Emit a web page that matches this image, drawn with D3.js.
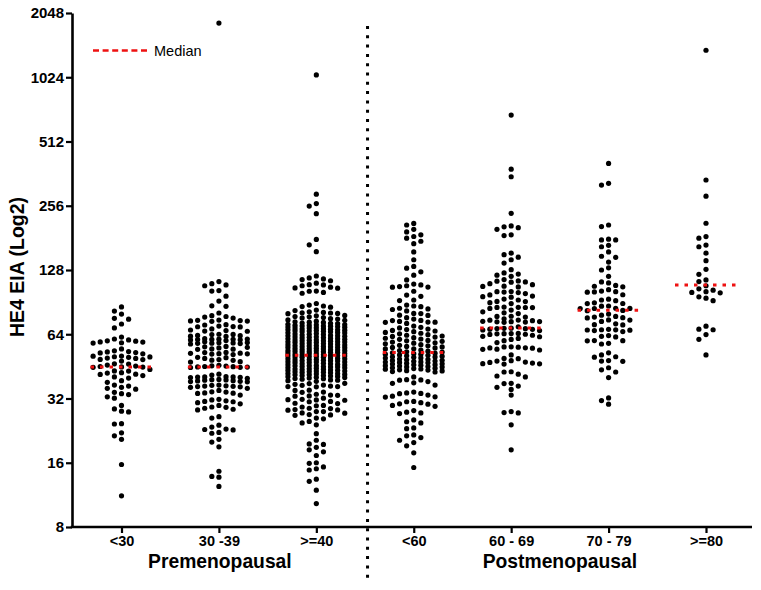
<!DOCTYPE html>
<html><head><meta charset="utf-8">
<script src="https://cdn.jsdelivr.net/npm/d3@7"></script>
<style>body{margin:0;background:#fff}</style>
</head><body>
<svg id="chart" width="761" height="590"></svg>
<script>
const categories = ["<30", "30 -39", ">=40", "<60", "60 - 69", "70 - 79", ">=80"];
const groupLabels = ["Premenopausal", "Postmenopausal"];
const yTicks = [8, 16, 32, 64, 128, 256, 512, 1024, 2048];
const medians = [45, 45, 51, 52.5, 68.5, 83, 109];

const lt30 = [85.9, 82.2, 79.6, 76.0, 75.3, 71.5, 68.5,
 62.1, 60.8, 60.2, 59.6, 58.9, 58.2, 58.4, 58.8, 59.4,
 54.6, 53.5, 53.1, 52.9, 52.5, 52.3, 51.8,
 50.6, 50.2, 50.1, 49.9, 49.5, 49.3, 48.8, 48.7, 47.9, 50.5,
 46.5, 46.4, 45.9, 45.4, 45.2, 45.0, 44.9, 44.8,
 43.8, 43.1, 43.0, 42.3, 42.1, 41.6, 41.5, 41.0, 40.4, 39.9,
 38.8, 38.1, 37.0, 36.6, 36.1, 35.7, 35.4,
 34.2, 33.7, 33.4, 32.6, 32.1,
 29.7, 28.6, 27.9, 27.7, 24.4, 24.3, 22.1, 21.4, 20.6, 15.7, 11.2];

const age30_39 = [1838, 113, 110.5, 109, 108, 102.5, 102, 96.5, 91.5, 87, 86.5, 80.5,
 77.5, 74.6, 73.8, 78.2, 73.9, 74.2, 73.6, 74.4, 76.2, 77.0,
 70.7, 69.4, 71.0, 69.5, 69.9, 69.3,
 67.8, 67.0, 66.2, 66.6, 66.1,
 63.2, 63.8, 64.0, 62.7, 62.5, 63.9, 63.0,
 60.7, 60.6, 60.5, 60.4, 60.2, 61.0, 59.8, 60.8, 60.3, 58.4, 57.6, 58.0, 57.9, 59.0, 58.1, 58.5, 58.3,
 55.6, 55.2, 54.6, 54.4, 54.5, 55.9, 56.1,
 51.8, 52.2, 51.4, 52.6, 52.1, 51.7, 51.9, 52.5,
 49.9, 49.3, 49.7, 48.7, 47.4, 48.4, 48.3, 47.6,
 45.4, 44.8, 45.1, 45.5, 45.8, 45.0, 44.7, 45.2, 44.9,
 41.6, 40.4, 39.8, 40.2, 40.5, 40.3, 40.1, 40.4, 41.2,
 39.1, 38.4, 38.8, 38.3, 39.0, 39.2, 38.7, 38.5, 39.3,
 37.0, 36.4, 36.6, 36.3, 36.1, 36.5, 36.9, 36.7, 35.7,
 34.3, 33.9, 34.0, 33.2, 33.8, 34.4, 34.9,
 31.5, 31.0, 30.6, 30.2, 30.9, 31.2, 31.7,
 29.2, 29.1, 28.3, 28.5, 28.8, 29.7,
 26.3, 25.9,
 24.0, 23.5, 22.9, 23.0, 22.8, 22.2, 22.0,
 20.6, 20.0, 19.0, 14.6, 13.8, 13.7, 12.4];

const ge40 = [1050, 290, 262, 255, 235, 178, 168, 156, 120, 117.5, 116.3, 115.5, 114, 111, 109.3, 109, 108,
 106.3, 105.5, 105.2, 102, 101.8, 100.5, 99.6, 89.2, 87.7, 86.8, 86.3, 85.7, 83.1, 82.6, 81.5, 81.0,
 80.7, 80.5, 80.1, 79.9,
 78.4, 78.1, 77.5, 77.2, 76.6, 76.3, 75.7, 75.4, 74.7, 74.4, 73.7, 73.2,
 72.9, 72.7, 72.2, 72.0, 71.8, 71.3, 71.1, 70.9, 70.5, 70.4, 70.0, 69.9, 69.8, 69.5,
 69.2, 69.1, 68.7, 68.5, 68.4, 68.0, 67.7, 67.6, 67.2, 67.1, 66.9, 66.6, 66.5, 66.2, 66.1,
 65.8, 65.7, 65.3, 65.0, 64.9, 64.5, 64.2, 64.0, 63.9, 63.5, 63.2, 63.0, 62.9, 62.6, 62.3, 62.2,
 61.9, 61.8, 61.5, 61.2, 61.0, 60.9, 60.6, 60.3, 60.2, 60.0, 59.7, 59.6, 59.4, 59.1, 59.0, 58.8,
 58.6, 58.5, 58.2, 57.9, 57.8, 57.6, 57.3, 57.2, 57.0, 56.7, 56.6, 56.4, 56.1, 56.0, 55.9, 55.6,
 55.5, 55.4, 55.1, 54.8, 54.7, 54.6, 54.3, 54.2, 54.0, 53.7, 53.6, 53.5, 53.2, 53.2, 53.0, 52.8,
 52.7, 52.6, 52.3, 52.0, 51.9, 51.8, 51.5, 51.4, 51.2, 51.0, 50.9, 50.8, 50.6, 50.4, 50.3, 50.1,
 50.0, 49.9, 49.6, 49.3, 49.2, 49.1, 48.8, 48.7, 48.5, 48.3, 48.2, 48.1, 47.9, 47.6, 47.5, 47.4,
 47.2, 47.1, 46.8, 46.6, 46.5, 46.2, 46.1, 45.9, 45.7, 45.6, 45.5, 45.2, 45.2, 45.0, 44.9,
 44.7, 44.6, 44.4, 44.1, 44.0, 43.9, 43.7, 43.5, 43.4, 43.3, 43.0, 43.0, 42.8, 42.7,
 42.5, 42.4, 42.2, 41.9, 41.9, 41.7, 41.5, 41.4, 41.3, 41.0, 41.0, 40.8, 40.6,
 40.5, 40.2, 40.1, 39.9, 39.7, 39.6, 39.4, 39.1, 39.0, 38.8, 38.5,
 37.7, 36.4, 37.0, 36.6, 36.4, 37.6, 36.3, 36.9, 37.3, 35.0, 34.3, 33.2, 32.8, 33.1, 32.9, 33.5, 34.2, 34.9,
 32.1, 31.5, 31.0, 31.4, 30.4, 31.6, 30.9, 31.7, 30.3, 29.7, 29.2, 28.3, 27.8, 28.2, 28.8, 28.4, 28.7, 29.6,
 27.4, 26.8, 26.9, 26.7, 27.3, 27.8, 25.9, 25.7, 25.0, 24.6, 24.1, 21.9, 20.4, 19.6, 19.5, 18.9, 18.4,
 18.0, 17.3, 16.0, 15.9, 15.3, 15.0, 14.8, 13.4, 13.1, 11.9, 10.3];

const lt60 = [211.5, 208, 198.5, 193, 187, 183.7, 180.5, 174.5, 170, 155.5, 143, 133, 130.5, 125.5, 121,
 115, 110, 109, 108, 107, 106.5, 106.4, 101.8, 97.7, 96.4, 92.6, 92.0, 87.7, 86.8, 86.2, 84.7, 84.1,
 83.6, 82.3, 80.1, 80.0, 78.6, 78.4, 76.5, 75.4, 74.3, 74.2, 73.5, 73.0, 72.9, 72.8, 71.9,
 69.9, 69.0, 68.5, 67.7, 67.3, 66.7, 66.3,
 65.8, 65.3, 64.7, 64.3, 63.7, 63.3, 62.8,
 62.5, 62.1, 61.7, 61.3, 60.8, 60.6, 59.9, 59.6,
 59.3, 58.8, 58.4, 58.1, 57.7, 57.2, 56.8, 56.5,
 56.1, 55.8, 55.5, 55.2, 54.7, 54.6, 54.0, 53.7,
 53.3, 53.0, 52.8, 52.4,
 52.2, 51.9, 51.6, 51.6, 51.2, 51.0, 50.7, 50.5, 50.2, 50.1,
 49.9, 49.6, 49.5, 49.0, 48.8, 48.6, 48.3, 48.2, 47.9, 47.8, 47.5, 47.4,
 47.2, 47.0, 46.8, 46.5, 46.4, 46.1, 46.0, 45.8, 45.6, 45.4, 45.2, 45.0, 44.9,
 44.6, 44.4, 44.2, 44.0, 43.9, 43.6, 43.5, 43.2, 43.1, 42.8,
 42.6, 40.4, 39.2, 39.1, 39.0, 38.4, 37.9, 37.7, 37.0, 34.3, 34.0, 33.8, 33.7, 33.2, 32.8, 32.6, 32.5,
 31.0, 30.9, 30.6, 30.2, 30.1, 29.7, 29.4, 28.1, 27.6, 27.4, 27.2, 25.4, 24.9, 24.6, 23.3, 23.1,
 21.6, 21.4, 21.0, 20.4, 19.9, 19.2, 17.8, 15.2];

const age60_69 = [681, 380, 350, 236, 206, 204, 202, 198.5, 187, 185.5, 153.5, 151, 147, 143, 138, 128.5,
 124, 122.5, 121, 119.5, 115.4, 113.8, 113.5, 112.5, 112.3, 110.5, 109.2, 107.5, 107.2, 106.6,
 101.5, 101.3, 100.9, 100.3, 99.3, 97.8, 96.6, 96.0, 95.5, 93.5, 92.6, 91.2, 91.0, 90.0, 89.1,
 85.8, 85.6, 85.5, 85.4, 85.3, 84.6, 83.1, 81.5, 80.6, 80.0, 77.7, 77.6, 77.0, 75.6, 74.6, 74.5,
 74.1, 73.6, 73.4, 73.3, 73.2, 73.0, 72.8, 69.4, 68.3, 68.2, 68.1, 68.0, 67.6, 67.5, 67.0, 66.6,
 64.6, 64.5, 64.4, 64.3, 64.0, 63.9, 63.3, 62.6, 62.3, 61.2, 60.5, 59.7, 58.5,
 55.9, 55.8, 55.7, 55.3, 55.2, 55.1, 54.5, 54.4, 54.0, 51.2, 49.3, 49.2, 48.1, 47.9, 47.4, 47.2,
 46.9, 46.6, 46.5, 46.4, 42.7, 42.6, 41.6, 40.8, 40.4, 37.7, 37.6, 36.6, 36.1, 35.3, 33.2,
 27.8, 27.5, 27.4, 24.1, 18.4];

const age70_79 = [404, 326, 320, 208, 204.5, 178.5, 177, 177, 167, 164.5, 155.5, 148.5, 146.8, 139.5,
 131, 128, 119.5, 112.5, 111.3, 108.4, 107.4, 106.7, 103.5, 102, 101.3, 101, 100.8, 98, 93.4, 92.6,
 91.9, 89.8, 89.2, 89.1, 86.8, 86.6, 84.7, 84.6, 84.5, 84.4, 82.8, 82.5, 79.6, 78.6, 77.6, 77.0,
 76.5, 76.3, 74.7, 74.6, 73.5, 71.6, 71.0, 70.8, 67.5, 67.2, 67.1, 67.0, 66.9, 66.6, 65.9, 63.1,
 62.6, 62.2, 59.8, 59.7, 59.6, 58.0, 57.6, 52.4, 51.2, 50.2, 50.0, 48.2, 47.9, 47.8, 44.6, 43.6,
 42.6, 40.1, 32.2, 31.3, 30.1];

const ge80 = [1370, 338, 284, 212, 183.5, 180.5, 167.5, 164.5, 153.5, 141.5, 129, 122.2, 115, 113,
 108, 104.5, 103, 101.3, 100.5, 100.1, 95.8, 94.4, 91.9, 69.8, 67.6, 67.2, 63.8, 60.6, 51.2];

const series = [lt30, age30_39, ge40, lt60, age60_69, age70_79, ge80];

const axisLeftX = 72, axisRightX = 752, plotTop = 13, plotBottom = 527;
const svg = d3.select("#chart");
const font = "Arial, 'Liberation Sans', sans-serif";

const y = d3.scaleLog().base(2).domain([8, 2048]).range([plotBottom, plotTop]);
const x = d3.scalePoint().domain(categories).range([121.5, 706]);

// beeswarm layout in fixed columns
function swarm(values, cx) {
  const step = 7.1, maxK = 4, minGap = 5.6;
  const order = [0];
  for (let k = 1; k <= maxK; k++) order.push(-k, k);
  const last = new Map();
  const out = [];
  values.slice().sort((a, b) => b - a).forEach(v => {
    const py = y(v);
    let best = 0, bestGap = -Infinity;
    for (const k of order) {
      const ly = last.has(k) ? last.get(k) : -Infinity;
      const gap = py - ly;
      if (gap >= minGap) { best = k; bestGap = gap; break; }
      if (gap > bestGap) { bestGap = gap; best = k; }
    }
    last.set(best, py);
    out.push({ v, x: cx + best * step, y: py });
  });
  return out;
}

// axes
const yAxis = d3.axisLeft(y).tickValues(yTicks).tickFormat(d3.format("d")).tickSize(6).tickSizeOuter(0).tickPadding(2);
const gy = svg.append("g").attr("transform", `translate(${axisLeftX},0)`).call(yAxis);
gy.select(".domain").attr("stroke", "#000").attr("stroke-width", 2.6);
gy.selectAll(".tick line").attr("stroke", "#000").attr("stroke-width", 2.2);
gy.selectAll(".tick text").attr("font-family", font).attr("font-weight", "bold").attr("font-size", 15).attr("fill", "#000");

const xAxis = d3.axisBottom(x).tickSize(6).tickSizeOuter(0).tickPadding(3);
const gx = svg.append("g").attr("transform", `translate(0,${plotBottom})`).call(xAxis);
gx.select(".domain").remove();
gx.selectAll(".tick line").attr("stroke", "#000").attr("stroke-width", 2.2);
gx.selectAll(".tick text").attr("font-family", font).attr("font-weight", "bold").attr("font-size", 14.5).attr("fill", "#000");
svg.append("line").attr("x1", axisLeftX - 1.3).attr("x2", axisRightX).attr("y1", plotBottom).attr("y2", plotBottom)
  .attr("stroke", "#000").attr("stroke-width", 2.6);

// divider
const divX = (x(categories[2]) + x(categories[3])) / 2 + 2.5;
svg.append("line").attr("x1", divX).attr("x2", divX).attr("y1", 26).attr("y2", 584)
  .attr("stroke", "#000").attr("stroke-width", 3).attr("stroke-dasharray", "3,6.3");

// dots
series.forEach((vals, i) => {
  const pts = swarm(vals, x(categories[i]));
  svg.append("g").selectAll("circle").data(pts).enter().append("circle")
    .attr("cx", d => d.x).attr("cy", d => d.y).attr("r", 2.6).attr("fill", "#000");
});

// medians
svg.append("g").selectAll("line").data(medians).enter().append("line")
  .attr("x1", (d, i) => x(categories[i]) - 31).attr("x2", (d, i) => x(categories[i]) + 31)
  .attr("y1", d => y(d)).attr("y2", d => y(d))
  .attr("stroke", "#ee1111").attr("stroke-width", 3).attr("stroke-dasharray", "3.5,6");

// legend
svg.append("line").attr("x1", 93).attr("x2", 147).attr("y1", 50.5).attr("y2", 50.5)
  .attr("stroke", "#ee1111").attr("stroke-width", 2.5).attr("stroke-dasharray", "6,3.6");
svg.append("text").attr("x", 154).attr("y", 56).attr("font-family", font).attr("font-size", 14.5).attr("fill", "#000").text("Median");

// y title
svg.append("text").attr("transform", `translate(24,267) rotate(-90)`).attr("text-anchor", "middle")
  .attr("font-family", font).attr("font-weight", "bold").attr("font-size", 19.5).attr("fill", "#000").text("HE4 EIA (Log2)");

// group labels
svg.append("text").attr("x", x(categories[1]) + 1).attr("y", 568).attr("text-anchor", "middle")
  .attr("font-family", font).attr("font-weight", "bold").attr("font-size", 19.3).attr("fill", "#000").text(groupLabels[0]);
svg.append("text").attr("x", (x(categories[4]) + x(categories[5])) / 2).attr("y", 568).attr("text-anchor", "middle")
  .attr("font-family", font).attr("font-weight", "bold").attr("font-size", 19.3).attr("fill", "#000").text(groupLabels[1]);
</script>
</body></html>
